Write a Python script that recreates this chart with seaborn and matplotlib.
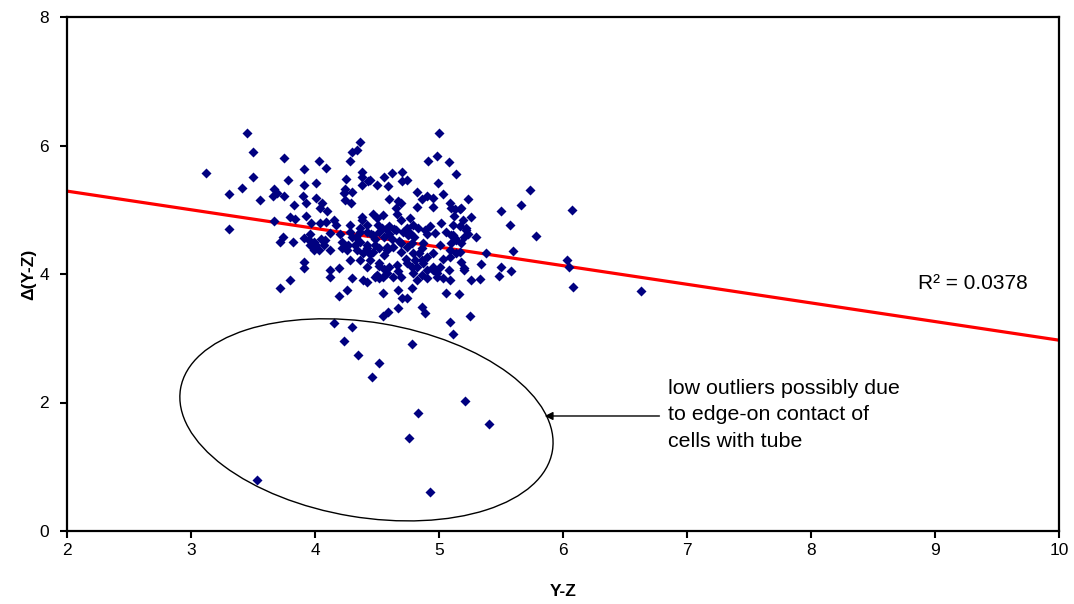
import matplotlib
matplotlib.use("Agg")
import matplotlib.pyplot as plt
import matplotlib.transforms as mtransforms
from matplotlib.patches import Ellipse
import seaborn as sns

# Y-Z colour vs. Delta(Y-Z)
yz = [
    3.45, 3.50, 3.12, 3.50, 3.75, 4.03, 3.91, 4.09, 3.78, 4.01, 3.91, 3.41, 3.31, 3.67, 3.69, 3.66, 3.75,
    3.56, 3.90, 4.01, 4.06, 4.04, 3.83, 3.93, 4.10, 3.93, 3.80, 3.84, 3.67, 3.97, 4.04, 4.09, 3.31,
    3.74, 3.72, 3.82, 3.91, 3.91, 3.80, 3.72, 4.12, 4.12,
    4.15, 4.17, 4.28, 4.38, 4.42, 4.28, 4.36,
    3.91, 3.95, 3.99, 3.96, 4.01, 4.03, 3.99, 4.08, 4.07, 4.12,
    4.22, 4.27, 4.32, 4.36, 4.30, 4.22, 4.26, 4.34, 4.39, 4.42,
    4.28, 4.36, 4.42, 4.19, 4.30, 4.39,
    4.51, 4.60, 5.11, 4.12, 4.20, 4.77, 4.90, 4.97,
    4.48, 4.58, 4.69, 4.78, 4.87, 5.01, 5.10,
    4.42, 4.47, 4.52, 4.58, 4.63, 4.69, 4.74, 4.79, 4.86, 4.90, 4.95, 5.03, 5.09, 5.14, 5.18, 5.20,
    4.44, 4.56, 4.84,
    4.44, 4.52, 4.60, 4.67, 4.74, 4.82, 4.90, 5.01,
    4.66, 4.73, 4.81, 4.86, 4.95, 5.09,
    4.50, 4.58, 4.86, 4.98, 5.08,
    4.42, 4.52, 4.82, 4.90, 5.09, 4.55, 4.69, 4.98, 5.03,
    4.26, 4.19, 4.55, 4.67, 4.78, 4.70, 4.74, 5.06,
    4.67, 4.59, 4.55, 4.86, 4.89,
    4.15, 4.30, 5.09,
    5.16, 5.11, 5.25,
    4.52, 4.56, 4.48, 4.63, 4.78, 4.87, 4.79, 4.95, 5.20,
    4.23, 4.35, 4.52, 4.46, 4.78, 5.21, 4.83, 5.40, 4.76, 3.53, 4.93,
    5.14, 5.73, 5.23, 5.13, 5.17, 5.12, 5.66, 5.50, 6.07, 5.19, 5.26, 5.57, 5.22, 5.23, 5.11, 5.14,
    5.18, 5.13, 5.30, 5.78, 5.17, 5.38, 5.60, 5.34, 5.50, 5.58, 5.48, 5.26, 5.33, 6.03, 6.05, 6.08, 6.63,
    4.38, 4.38, 4.43, 4.50, 4.59, 4.56, 4.62, 4.70, 4.82, 4.99, 5.03,
    4.60, 4.69, 4.65, 4.86, 4.95, 5.09, 5.10, 5.18,
    4.38, 4.47, 4.50, 4.55, 4.66, 4.69, 4.77, 4.79, 4.74, 4.83, 4.89, 4.93, 5.02, 5.06, 5.10, 5.17,
    5.20, 5.22,
    4.36, 4.42, 4.47, 4.52, 4.56, 4.60, 4.65,
    5.00, 4.36, 4.30, 4.34, 4.28, 4.91, 4.98, 5.08, 4.38, 4.44, 4.25, 4.74, 4.70,
    4.24, 4.23, 4.30, 4.24, 4.29, 4.90, 4.95, 4.82, 4.67,
    4.54, 4.62, 4.71, 4.80, 4.45, 4.57, 4.68, 3.96, 4.05, 4.33, 4.48, 4.64, 4.75,
]
delta_yz = [
    6.19, 5.90, 5.57, 5.51, 5.81, 5.76, 5.63, 5.65, 5.46, 5.41, 5.38, 5.34, 5.25, 5.32, 5.26, 5.22, 5.22,
    5.15, 5.21, 5.19, 5.10, 5.02, 5.08, 5.11, 4.98, 4.90, 4.88, 4.85, 4.82, 4.79, 4.79, 4.81, 4.70,
    4.58, 4.50, 4.50, 4.19, 4.10, 3.91, 3.78, 4.06, 3.96,
    4.84, 4.76, 4.76, 4.84, 4.76, 4.66, 4.66,
    4.56, 4.53, 4.50, 4.45, 4.45, 4.37, 4.37, 4.53, 4.45, 4.37,
    4.50, 4.45, 4.45, 4.50, 4.58, 4.40, 4.37, 4.37, 4.32, 4.40,
    4.22, 4.22, 4.11, 4.09, 3.93, 3.91,
    4.77, 4.75, 4.76, 4.64, 4.62, 4.64, 4.62, 4.64,
    4.45, 4.42, 4.48, 4.48, 4.48, 4.45, 4.48,
    4.45, 4.35, 4.40, 4.37, 4.42, 4.35, 4.42, 4.32, 4.40, 4.27, 4.32, 4.24, 4.37, 4.32, 4.19, 4.06,
    4.31, 4.29, 4.33,
    4.22, 4.17, 4.11, 4.04, 4.17, 4.11, 4.06, 4.11,
    4.14, 4.24, 4.22, 4.22, 4.11, 4.27,
    3.98, 4.01, 3.98, 4.01, 4.06,
    3.88, 3.93, 3.91, 3.93, 3.91, 3.96, 3.96, 3.96, 3.93,
    3.75, 3.65, 3.70, 3.75, 3.78, 3.62, 3.62, 3.70,
    3.47, 3.41, 3.34, 3.49, 3.39,
    3.23, 3.18, 3.26,
    3.69, 3.07, 3.34,
    4.12, 4.08, 3.96, 3.96, 4.11, 4.17, 4.01, 4.06, 4.09,
    2.96, 2.74, 2.61, 2.40, 2.91, 2.03, 1.84, 1.67, 1.44, 0.80, 0.60,
    5.56, 5.31, 5.16, 5.01, 5.01, 4.90, 5.07, 4.98, 5.00, 4.84, 4.88, 4.77, 4.71, 4.63, 4.61, 4.53,
    4.49, 4.56, 4.57, 4.59, 4.35, 4.33, 4.36, 4.15, 4.11, 4.04, 3.97, 3.91, 3.92, 4.22, 4.11, 3.79, 3.74,
    5.51, 5.39, 5.44, 5.39, 5.37, 5.51, 5.57, 5.59, 5.28, 5.41, 5.25,
    5.16, 5.10, 5.02, 5.16, 5.18, 5.10, 5.02, 5.02,
    4.89, 4.94, 4.87, 4.92, 4.94, 4.84, 4.87, 4.76, 4.71, 4.71, 4.68, 4.74, 4.79, 4.66, 4.61, 4.74,
    4.58, 4.68,
    4.71, 4.66, 4.61, 4.66, 4.58, 4.63, 4.68,
    6.19, 6.06, 5.90, 5.93, 5.76, 5.76, 5.83, 5.75, 5.59, 5.46, 5.48, 5.47, 5.44,
    5.33, 5.26, 5.28, 5.15, 5.11, 5.21, 5.05, 5.05, 5.14,
    4.72, 4.55, 4.66, 4.57, 4.62, 4.70, 4.52, 4.62, 4.55, 4.58, 4.54, 4.70, 4.60,
]

# Excel linear trendline, read at both ends of the x range
trend_x = [2, 10]
trend_y = [5.29, 2.97]
r_squared = "0.0378"

note_text = "low outliers possibly due\nto edge-on contact of\ncells with tube"

sns.set_style("ticks")
plt.rcParams['font.family'] = ['Liberation Sans', 'DejaVu Sans']
plt.rcParams['text.color'] = 'black'
plt.rcParams['axes.labelcolor'] = 'black'

fig = plt.figure(figsize=(10.74, 6.04), dpi=100)
ax = fig.add_axes([67 / 1074, 73 / 604, 992 / 1074, 514 / 604])

sns.scatterplot(x=yz, y=delta_yz, marker='D', color='#000080', s=26,
                linewidth=0, ax=ax, zorder=3)
sns.lineplot(x=trend_x, y=trend_y, color='red', linewidth=2.3, ax=ax, zorder=2)

ax.set_xlim(2, 10)
ax.set_ylim(0, 8)
ax.set_xticks(range(2, 11))
ax.set_yticks([0, 2, 4, 6, 8])
ax.tick_params(direction='out', length=5, width=1.5, labelsize=12.5, colors='black')
ax.tick_params(axis='y', pad=8)
for side in ['left', 'bottom', 'top', 'right']:
    ax.spines[side].set_linewidth(1.6)
    ax.spines[side].set_color('black')

ax.set_xlabel("Y-Z", fontsize=12.5, fontweight='bold', labelpad=19)
ax.set_ylabel("Δ(Y-Z)", fontsize=12.5, fontweight='bold', labelpad=2)

ax.text(8.86, 3.85, "R² = " + r_squared, fontsize=15, va='center', ha='left')

# ellipse drawn in screen-pixel units so its tilt matches the original
ell_tf = mtransforms.Affine2D().scale(1 / 124, 1 / 64.25).translate(4.415, 1.73) + ax.transData
ax.add_patch(Ellipse((0, 0), 377, 195, angle=-9.5, fill=False, edgecolor='black',
                     linewidth=1.0, transform=ell_tf, zorder=4))

ax.annotate("", xy=(5.83, 1.79), xytext=(6.80, 1.79),
            arrowprops=dict(arrowstyle='-|>', color='black', lw=1, mutation_scale=12))
ax.text(6.85, 2.37, note_text, fontsize=15.4, va='top', ha='left', linespacing=1.5)

fig.savefig("out.png", dpi=100)
